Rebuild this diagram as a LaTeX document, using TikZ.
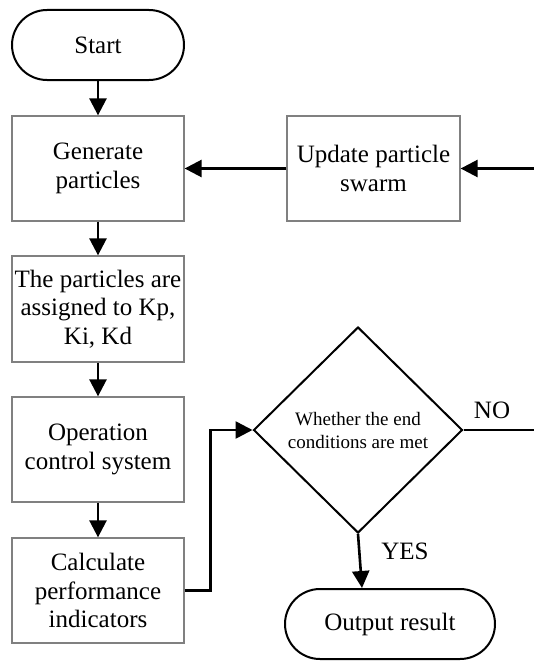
\documentclass[tikz,border=0pt]{standalone}
\usepackage{fontspec}
\setmainfont{Liberation Serif}
\usetikzlibrary{shapes.geometric,arrows.meta,calc}
\tikzset{
  procbox/.style={draw=black!50, line width=1.3pt, minimum width=172pt, minimum height=105pt, inner sep=0pt, align=center, font=\fontsize{25}{28.5}\selectfont},
  termbox/.style={draw=black, line width=2pt, rounded corners=35pt, minimum height=70pt, inner sep=0pt, align=center, font=\fontsize{25}{28.5}\selectfont},
  decbox/.style={draw=black, line width=2pt, diamond, minimum width=209pt, minimum height=206pt, inner sep=0pt, align=center, font=\fontsize{19}{23}\selectfont},
  arr/.style={line width=2.6pt, -{Triangle[length=17pt,width=17pt]}},
  ln/.style={line width=2.6pt},
  lbl/.style={font=\fontsize{25}{28.5}\selectfont, inner sep=0pt}
}
\begin{document}
\begin{tikzpicture}[x=1pt,y=-1pt]
\useasboundingbox (0,0) rectangle (534,661);
\node[termbox, minimum width=172pt] (start) at (98,45) {Start};
\node[procbox] (gen) at (98,168.5) {Generate\\particles};
\node[procbox, minimum width=173pt] (upd) at (373.5,168.5) {Update particle\\swarm};
\node[procbox, minimum height=106pt] (asg) at (98,309) {The particles are\\assigned to Kp,\\Ki, Kd};
\node[procbox] (op) at (98,449.5) {Operation\\control system};
\node[procbox] (calc) at (98,590.5) {Calculate\\performance\\indicators};
\node[decbox] (dec) at (358,430) {Whether the end\\conditions are met};
\node[termbox, minimum width=210pt] (out) at (390,624) {Output result};
\coordinate (rin) at (534,168.5);
\coordinate (rout) at (534,430);
\coordinate (yesend) at ($(out.north)+(-28,0)$);
\node[lbl] (no) at (492,410) {NO};
\node[lbl] (yes) at (405,551) {YES};
\draw[arr] (start.south) -- (gen.north);
\draw[arr] (rin) -- (upd.east);
\draw[arr] (upd.west) -- (gen.east);
\draw[arr] (gen.south) -- (asg.north);
\draw[arr] (asg.south) -- (op.north);
\draw[arr] (op.south) -- (calc.north);
\draw[arr] (calc.east) -- ++(26,0) |- (dec.west);
\draw[ln] (dec.east) -- (rout);
\draw[arr] (dec.south) -- (yesend);
\end{tikzpicture}
\end{document}
